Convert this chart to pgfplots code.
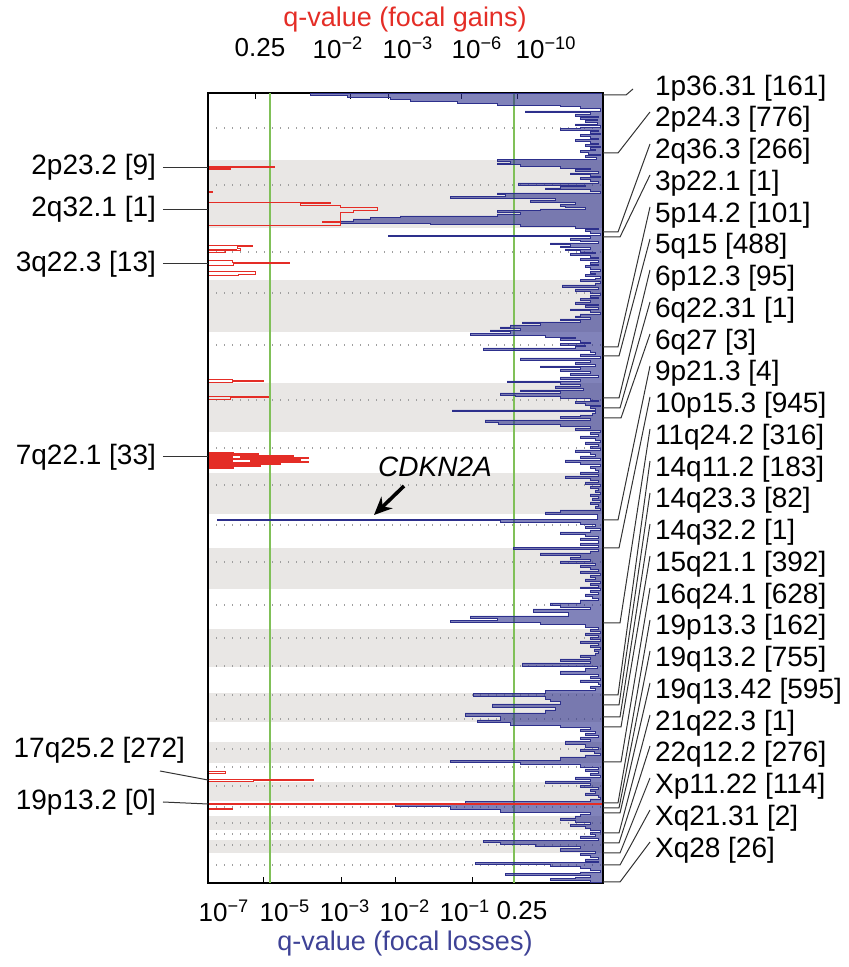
\documentclass[border=0pt]{standalone}
\usepackage{pgfplots}
\pgfplotsset{compat=1.18}
\usepackage{fontspec}
\setmainfont{Liberation Sans}
\usetikzlibrary{arrows.meta}
\definecolor{gainred}{RGB}{228,45,38}
\definecolor{lossblue}{RGB}{45,48,140}
\definecolor{titleblue}{RGB}{62,66,150}
\definecolor{qgreen}{RGB}{128,192,88}
\definecolor{bandgray}{RGB}{233,231,229}
\pgfplotsset{set layers}
\pgfplotstableread{
v y
603 93
310 93.5
347 95
390 97
410 99
457 101
497 103
560 105
580 106.5
600 108
525 111
590 112
575 114
598 116
580 117.5
597 119
585 120.5
597 122
575 124
600 125.5
580 127
560 128.5
598 130
590 131.5
600 133
580 134.5
590 136
598 138
575 139.5
590 141
598 143
585 144.5
600 146
590 147.5
595 149
580 150.5
588 152
600 154
585 155.5
596 157
497 159.5
510 161.5
497 163
520 164.5
560 166
590 168
575 169.5
598 171
570 173
590 174.5
600 176
580 177.5
590 179
598 181
518 183
585 185
560 186.5
545 188
590 189.5
600 191
497 193
505 194.5
450 196.5
555 198
530 200
575 202
560 204
565 206
585 207.5
540 209
497 210.5
520 212
497 214
400 216
370 217.5
353 219
340 221
430 223
520 224.5
575 226
598 228
585 229.5
590 231
600 233
388 235.5
590 236.5
570 238
580 240
598 241.5
550 243
570 244.5
560 246
590 247.5
565 249
580 250.5
595 252
570 253.5
590 255
598 257
580 258.5
598 260
590 262
598 264
585 265.5
590 267
600 269
590 271
595 273
585 274.5
600 276
595 278
580 279.5
600 281
595 283
562 285
598 287
575 289
590 291
600 293
590 295
598 297
580 298.5
590 300
575 302
598 304
585 305.5
598 307
570 309
590 310.5
600 312
580 314
575 316
590 317.5
560 319
580 320.5
522 322
540 323.5
510 325
500 327
520 328.5
490 330
510 331.5
470 333
545 335
575 337
560 338.5
580 340
590 342
560 343.5
585 345
575 346.5
483 348
590 350
595 352
580 354
600 356
520 358
590 360
575 362
595 364
540 366
580 367.5
560 369
590 371
570 373
598 375
560 377
580 379
507 381
560 382.5
580 384
555 386
583 388
520 390
560 391.5
500 393
515 395
560 396.5
590 398
598 400
575 401.5
585 403
600 405
590 406.5
595 408
452 410
595 411.5
592 413
580 415
560 416.5
590 418
485 420
498 422
560 424
590 426
575 428
600 430
590 432
598 434
580 436
595 438
600 440
585 442
598 444
590 446
600 448
575 450
590 452
595 454
580 456
600 458
565 460
580 462
600 464
590 466
595 468
598 470
580 472
598 474
565 476
590 478
598 480
585 482
600 484
590 486
598 488
595 490
600 492
590 494
598 496
592 498
600 500
590 502
598 504
595 506
600 508
560 510
545 512
597 514
217 519.5
500 520.5
580 522
595 524
585 526
600 528
590 530
560 532
585 534
598 536
580 538
598 540
580 543
598 545.5
513 547.5
598 549.5
590 551
540 553
580 555
570 557
590 559
560 561
595 563
580 565
590 567
598 569
580 571
600 573
590 575
595 577
585 579
600 581
590 583
598 585
580 587
600 588
590 590
598 592
585 594
592 596
598 598
580 600
550 603
560 605
590 607
533 609
568 612
470 616
497 618.5
450 620.5
540 622.5
585 624.5
598 627
590 629
600 631
585 633
598 635
590 637
600 639
580 641
598 643
590 645
600 647
594 649
598 651
595 653
580 655
590 657
560 659
590 661
522 663
597 666
585 668
560 671
598 674
590 676
600 678
580 680
598 682
600 684
590 686
595 688
545 690.5
473 693.5
545 696.5
550 699
560 701
492 704
555 707
545 710
465 713
500 716
477 720
510 722.5
560 725
590 727
580 729
595 731
585 733
598 735
580 737
590 739
565 741
585 744
598 747
580 749
594 751
600 753
585 755
560 757
450 760.5
520 762.5
580 764.5
598 767
585 769
598 771
590 773
600 775
575 777
590 779
545 781
590 783.5
580 785.5
598 787
590 789
595 791
585 793
598 795
600 797
590 799
465 801.5
395 804.5
450 806.5
500 809
590 812
580 814
575 816
560 818
575 820.5
590 822.5
570 824.5
585 826.5
590 828
600 830
590 832
595 834
580 836
598 838
483 840.5
500 842.5
535 844.5
580 846.5
560 848.5
595 851
580 853
590 855
598 857
585 859
598 861
475 862.5
550 864.5
580 866.5
590 868.5
600 870
580 872
505 873.5
590 875.5
575 877
550 878.5
590 880.5
603 882
}\losses
\pgfplotstableread{
v y
208 93
208 165
274 166.5
230 167.5
208 170
208 191
212 192
208 193
208 202
330 202.5
300 204
340 205.5
377 208
353 210.5
340 212.5
322 221.5
340 222.5
208 225.5
208 245
252 245.8
237 247
240 249
225 251
208 253
232 261
289 262.5
233 263.5
208 266
255 272
238 274.5
208 276
208 379
232 379.5
263 381
232 382
208 383
208 396
268 397
230 398
208 400
208 452
233 452.5
258 453.5
233 454.5
293 455.5
240 456.5
308 457.5
233 458.5
300 459.5
250 460.5
308 461.5
233 462.5
280 463.5
233 464.5
260 465.5
233 466.5
208 468.5
208 771
225 772
208 773.5
208 779
313 779.8
253 780.5
208 781.5
208 803
603 803.5
208 804.5
232 808.5
208 809.5
208 883
}\gains
\begin{document}
\begin{tikzpicture}
\begin{axis}[
  scale only axis, width=197.5pt, height=395pt,
  xmin=208, xmax=603, ymin=93, ymax=883, y dir=reverse,
  clip=false,
  axis line style={black, line width=0.6pt},
  tick align=inside, major tick length=3pt,
  xtick={263,341,395,472,514}, xticklabels={}, xtick pos=bottom,
  xtick style={black, line width=0.5pt},
  ytick={128,185,252,293,345,400,448,485,525,562,605,638,666,695,719,749,767,786,807,823,834,845,865},
  yticklabels={}, ytick style={draw=none},
  ymajorgrids, y grid style={gray!75, line width=0.7pt, dash pattern=on 0.7pt off 3.3pt},
]
% chromosome bands
\addplot[on layer=axis background, fill=bandgray, draw=none] coordinates {(208,160) (603,160) (603,228) (208,228)};
\addplot[on layer=axis background, fill=bandgray, draw=none] coordinates {(208,280) (603,280) (603,332) (208,332)};
\addplot[on layer=axis background, fill=bandgray, draw=none] coordinates {(208,383) (603,383) (603,432) (208,432)};
\addplot[on layer=axis background, fill=bandgray, draw=none] coordinates {(208,473) (603,473) (603,514) (208,514)};
\addplot[on layer=axis background, fill=bandgray, draw=none] coordinates {(208,548) (603,548) (603,589) (208,589)};
\addplot[on layer=axis background, fill=bandgray, draw=none] coordinates {(208,629) (603,629) (603,667) (208,667)};
\addplot[on layer=axis background, fill=bandgray, draw=none] coordinates {(208,693) (603,693) (603,722) (208,722)};
\addplot[on layer=axis background, fill=bandgray, draw=none] coordinates {(208,742) (603,742) (603,763) (208,763)};
\addplot[on layer=axis background, fill=bandgray, draw=none] coordinates {(208,782) (603,782) (603,801) (208,801)};
\addplot[on layer=axis background, fill=bandgray, draw=none] coordinates {(208,816) (603,816) (603,830) (208,830)};
\addplot[on layer=axis background, fill=bandgray, draw=none] coordinates {(208,840) (603,840) (603,853) (208,853)};
% significance thresholds
\addplot[qgreen, line width=0.8pt] coordinates {(270,93) (270,883)};
\addplot[qgreen, line width=0.8pt] coordinates {(514,93) (514,883)};
% profiles
\addplot[const plot mark right, draw=lossblue, line width=0.45pt, fill=lossblue, fill opacity=0.6] table[x=v, y=y] {\losses};
\addplot[fill=gainred, draw=none] coordinates {(208,452.5) (233,452.5) (233,468.5) (208,468.5)};
\addplot[fill=gainred, draw=none] coordinates {(208,167) (230,167) (230,169.5) (208,169.5)};
\addplot[fill=gainred, draw=none] coordinates {(208,249) (237,249) (237,251.5) (208,251.5)};
\addplot[const plot mark right, draw=gainred, line width=0.5pt] table[x=v, y=y] {\gains};
% axis spines redrawn over the profiles
\draw[black, line width=0.7pt] (axis cs:208,93) -- (axis cs:208,883);
\draw[black, line width=0.7pt] (axis cs:603,93) -- (axis cs:603,883);
% titles and tick labels
\node[text=gainred, font=\fontsize{13.5}{16}\selectfont] at (axis cs:405,20) {q-value (focal gains)};
\node[text=titleblue, font=\fontsize{13.5}{16}\selectfont] at (axis cs:405,944) {q-value (focal losses)};
\begin{scope}[every node/.style={font=\fontsize{13}{15}\selectfont}]
\node at (axis cs:260,48) {0.25};
\node at (axis cs:338,48) {10\textsuperscript{−2}};
\node at (axis cs:408,48) {10\textsuperscript{−3}};
\node at (axis cs:477,48) {10\textsuperscript{−6}};
\node at (axis cs:546,48) {10\textsuperscript{−10}};
\node at (axis cs:224,911) {10\textsuperscript{−7}};
\node at (axis cs:285,911) {10\textsuperscript{−5}};
\node at (axis cs:345,911) {10\textsuperscript{−3}};
\node at (axis cs:405,911) {10\textsuperscript{−2}};
\node at (axis cs:465,911) {10\textsuperscript{−1}};
\node at (axis cs:522,911) {0.25};
\end{scope}
% CDKN2A annotation
\node[font=\itshape\fontsize{14}{16}\selectfont] at (axis cs:435,467) {CDKN2A};
\draw[-{Stealth[length=9pt,width=8pt]}, line width=1.8pt] (axis cs:404,486) -- (axis cs:374,515);
% left labels
\begin{scope}[every node/.style={font=\fontsize{14}{16}\selectfont, anchor=east}]
\node at (axis cs:163,167) {2p23.2 [9]};
\node at (axis cs:163,209) {2q32.1 [1]};
\node at (axis cs:163,264) {3q22.3 [13]};
\node at (axis cs:163,457) {7q22.1 [33]};
\node at (axis cs:192,750) {17q25.2 [272]};
\node at (axis cs:163,802) {19p13.2 [0]};
\end{scope}
\begin{scope}[black!80, line width=0.5pt]
\draw (axis cs:163,168) -- (axis cs:208,168);
\draw (axis cs:163,210) -- (axis cs:208,210);
\draw (axis cs:163,264) -- (axis cs:208,264);
\draw (axis cs:163,457) -- (axis cs:208,457);
\draw (axis cs:160,771) -- (axis cs:208,780);
\draw (axis cs:163,802) -- (axis cs:208,804);
\end{scope}
% right labels
\begin{scope}[every node/.style={font=\fontsize{14}{16}\selectfont, anchor=west}]
\node at (axis cs:648,88) {1p36.31 [161]};
\node at (axis cs:648,119.75) {2p24.3 [776]};
\node at (axis cs:648,151.5) {2q36.3 [266]};
\node at (axis cs:648,183.25) {3p22.1 [1]};
\node at (axis cs:648,215) {5p14.2 [101]};
\node at (axis cs:648,246.75) {5q15 [488]};
\node at (axis cs:648,278.5) {6p12.3 [95]};
\node at (axis cs:648,310.25) {6q22.31 [1]};
\node at (axis cs:648,342) {6q27 [3]};
\node at (axis cs:648,373.75) {9p21.3 [4]};
\node at (axis cs:648,405.5) {10p15.3 [945]};
\node at (axis cs:648,437.25) {11q24.2 [316]};
\node at (axis cs:648,469) {14q11.2 [183]};
\node at (axis cs:648,500.75) {14q23.3 [82]};
\node at (axis cs:648,532.5) {14q32.2 [1]};
\node at (axis cs:648,564.25) {15q21.1 [392]};
\node at (axis cs:648,596) {16q24.1 [628]};
\node at (axis cs:648,627.75) {19p13.3 [162]};
\node at (axis cs:648,659.5) {19q13.2 [755]};
\node at (axis cs:648,691.25) {19q13.42 [595]};
\node at (axis cs:648,723) {21q22.3 [1]};
\node at (axis cs:648,754.75) {22q12.2 [276]};
\node at (axis cs:648,786.5) {Xp11.22 [114]};
\node at (axis cs:648,818.25) {Xq21.31 [2]};
\node at (axis cs:648,850) {Xq28 [26]};
\end{scope}
\begin{scope}[black!80, line width=0.5pt]
\draw (axis cs:603,95) -- (axis cs:626,95) -- (axis cs:633,89);
\draw (axis cs:603,153) -- (axis cs:618,153) -- (axis cs:650,112);
\draw (axis cs:603,232) -- (axis cs:618,232) -- (axis cs:650,144);
\draw (axis cs:603,237) -- (axis cs:620,237) -- (axis cs:650,175);
\draw (axis cs:603,347) -- (axis cs:618,347) -- (axis cs:650,207);
\draw (axis cs:603,356) -- (axis cs:619,356) -- (axis cs:650,239);
\draw (axis cs:603,398) -- (axis cs:619,398) -- (axis cs:650,270);
\draw (axis cs:603,408) -- (axis cs:620,408) -- (axis cs:650,302);
\draw (axis cs:603,418) -- (axis cs:621,418) -- (axis cs:650,334);
\draw (axis cs:603,520) -- (axis cs:618,520) -- (axis cs:650,366);
\draw (axis cs:603,548) -- (axis cs:619,548) -- (axis cs:650,397);
\draw (axis cs:603,623) -- (axis cs:620,623) -- (axis cs:650,429);
\draw (axis cs:603,695) -- (axis cs:618,695) -- (axis cs:650,461);
\draw (axis cs:603,705) -- (axis cs:619,705) -- (axis cs:650,493);
\draw (axis cs:603,717) -- (axis cs:620,717) -- (axis cs:650,524);
\draw (axis cs:603,727) -- (axis cs:621,727) -- (axis cs:650,556);
\draw (axis cs:603,762) -- (axis cs:621,762) -- (axis cs:650,588);
\draw (axis cs:603,803) -- (axis cs:618,803) -- (axis cs:650,620);
\draw (axis cs:603,808) -- (axis cs:619,808) -- (axis cs:650,651);
\draw (axis cs:603,813) -- (axis cs:620,813) -- (axis cs:650,683);
\draw (axis cs:603,833) -- (axis cs:619,833) -- (axis cs:650,715);
\draw (axis cs:603,843) -- (axis cs:619,843) -- (axis cs:650,746);
\draw (axis cs:603,853) -- (axis cs:620,853) -- (axis cs:650,778);
\draw (axis cs:603,865) -- (axis cs:620,865) -- (axis cs:650,810);
\draw (axis cs:603,882) -- (axis cs:620,882) -- (axis cs:650,842);
\end{scope}
\coordinate (bbA) at (axis cs:0,967);
\coordinate (bbB) at (axis cs:848,0);
\end{axis}
\begin{axis}[
  scale only axis, width=197.5pt, height=395pt,
  xmin=208, xmax=603, ymin=93, ymax=883, y dir=reverse,
  axis x line*=top, axis y line=none, tick align=inside, major tick length=3pt,
  xtick={255,350,388,461,517}, xticklabels={},
  xtick style={black, line width=0.5pt},
  axis line style={black, line width=0.6pt},
]
\end{axis}
\pgfresetboundingbox
\path[use as bounding box] (bbA) rectangle (bbB);
\end{tikzpicture}
\end{document}
